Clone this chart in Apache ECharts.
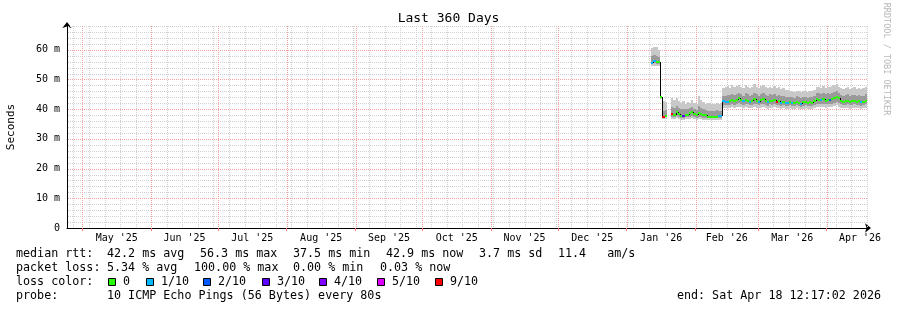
<!DOCTYPE html>
<html><head><meta charset="utf-8">
<script src="https://cdn.jsdelivr.net/npm/echarts@6/dist/echarts.min.js"></script>
<style>html,body{margin:0;padding:0;background:#fff}#c{width:897px;height:310px}</style>
</head><body><div id="c"></div>
<script>
// ---------- data ----------
const DAY = 86400000;
const X_MIN = Date.UTC(2025, 3, 24, 2, 50, 0);
const X_MAX = X_MIN + 360 * DAY;
const monthStarts = ['2025-05-01','2025-06-01','2025-07-01','2025-08-01','2025-09-01','2025-10-01','2025-11-01','2025-12-01','2026-01-01','2026-02-01','2026-03-01','2026-04-01','2026-05-01'];
const monthLabels = ["May '25","Jun '25","Jul '25","Aug '25","Sep '25","Oct '25","Nov '25","Dec '25","Jan '26","Feb '26","Mar '26","Apr '26"];
const firstWeekLine = '2025-04-27';
const yMajorTicks = [0, 10, 20, 30, 40, 50, 60];
const yMinorTicks = [2,4,6,8,12,14,16,18,22,24,26,28,32,34,36,38,42,44,46,48,52,54,56,58,62,64,66,68];
const Y_MAX = 68;

// daily samples starting at this date (ms values)
const firstDay = '2026-01-12';
const median = [
 55.6, 56.3, 56.0, 55.9,
 44.0, 37.4, 37.8,
 null, null,
 38.4, 38.2, 39.2, 38.5, 37.8, 37.7, 38.2, 38.0, 38.6, 39.0, 38.3, 38.0, 38.8, 38.4, 38.0, 37.9, 37.5, 37.5, 37.5, 37.5, 37.5, 37.6, 37.6,
 42.6, 42.4, 42.5, 42.8, 43.0, 42.7, 43.2, 43.6, 43.0, 42.6, 43.1, 42.9, 42.4, 42.8, 43.5, 42.9, 42.5, 43.0, 43.3, 42.8, 42.3, 42.9, 42.6, 43.0, 42.4, 42.7, 42.2, 42.5, 42.1, 42.0,
 42.4, 42.2, 42.0, 42.5, 42.2, 41.9, 42.3, 42.4, 42.1, 42.3, 42.2, 42.6, 43.4, 43.2, 43.0, 43.3, 42.9, 43.2, 43.0, 43.3, 43.8, 44.2, 43.6, 42.8, 42.5, 42.6, 42.9, 42.4, 42.6, 42.8, 42.5, 42.6, 42.3, 42.5, 42.9
];
const lossCount = [
 1, 1, 0, 0,
 0, 9, 0,
 null, null,
 9, 0, 0, 0, 0, 3, 0, 0, 0, 0, 0, 0, 0, 0, 0, 0, 0, 0, 0, 0, 0, 1, 1,
 1, 1, 1, 0, 0, 0, 0, 0, 0, 1, 0, 0, 1, 0, 0, 0, 1, 0, 0, 0, 1, 0, 0, 0, 9, 0, 1, 0, 1, 1,
 0, 1, 0, 0, 0, 1, 0, 0, 0, 0, 0, 0, 0, 0, 1, 0, 0, 0, 2, 0, 0, 0, 0, 0, 0, 0, 0, 0, 0, 0, 0, 0, 1, 0, 0
];
const smokeHi = [
 60.5, 61.0, 60.8, 59.8,
 44.5, 42.6, 42.4,
 null, null,
 43.7, 43.0, 43.6, 42.6, 42.2, 42.8, 41.9, 42.3, 42.0, 43.1, 42.2, 41.6, 44.3, 43.0, 42.3, 41.8, 42.0, 42.1, 41.6, 41.8, 42.1, 41.7, 42.0,
 47.0, 47.5, 47.8, 47.2, 48.0, 47.4, 47.8, 48.3, 47.5, 47.0, 48.2, 47.6, 47.0, 47.4, 48.4, 47.6, 47.2, 47.8, 48.0, 47.3, 47.0, 47.5, 47.2, 47.8, 47.0, 47.4, 46.8, 47.2, 46.6, 46.4,
 46.0, 46.2, 45.9, 46.1, 46.0, 45.8, 46.0, 46.2, 45.9, 46.0, 46.1, 46.5, 47.4, 47.6, 47.0, 47.8, 47.2, 47.6, 47.3, 47.8, 48.2, 48.5, 47.6, 47.0, 46.8, 47.2, 47.5, 46.8, 47.0, 47.4, 46.9, 47.2, 46.8, 47.0, 47.3
];
const smokeMidHi = [
 58.0, 58.4, 58.0, 57.6,
 44.3, 39.5, 39.6,
 null, null,
 40.8, 40.5, 41.0, 40.3, 39.9, 40.2, 40.0, 40.1, 40.4, 40.8, 40.2, 39.8, 41.2, 40.5, 40.0, 39.6, 39.4, 39.5, 39.3, 39.4, 39.6, 39.3, 39.5,
 44.6, 44.5, 44.8, 44.7, 45.2, 44.8, 45.1, 45.6, 45.0, 44.6, 45.3, 45.0, 44.5, 44.9, 45.6, 45.0, 44.6, 45.1, 45.4, 44.9, 44.4, 45.0, 44.7, 45.2, 44.5, 44.8, 44.3, 44.6, 44.2, 44.0,
 44.2, 44.1, 43.8, 44.3, 44.0, 43.8, 44.1, 44.2, 43.9, 44.1, 44.0, 44.6, 45.4, 45.3, 45.0, 45.4, 45.0, 45.3, 45.1, 45.4, 45.8, 46.2, 45.6, 44.9, 44.6, 44.8, 45.0, 44.5, 44.7, 44.9, 44.6, 44.8, 44.4, 44.6, 45.0
];
const smokeMidLo = [
 55.1, 55.4, 55.2, 55.1,
 43.7, 37.0, 37.2,
 null, null,
 37.4, 37.3, 37.6, 37.3, 37.0, 37.0, 37.3, 37.2, 37.4, 37.6, 37.3, 37.1, 37.5, 37.3, 37.1, 37.0, 36.9, 36.9, 36.9, 36.9, 36.9, 37.0, 37.0,
 41.4, 41.3, 41.4, 41.5, 41.7, 41.5, 41.8, 42.0, 41.7, 41.4, 41.7, 41.6, 41.3, 41.5, 41.9, 41.6, 41.3, 41.6, 41.8, 41.5, 41.2, 41.6, 41.4, 41.7, 41.3, 41.5, 41.2, 41.4, 41.1, 41.0,
 41.3, 41.1, 41.0, 41.3, 41.1, 40.9, 41.2, 41.3, 41.0, 41.2, 41.1, 41.4, 41.9, 41.8, 41.7, 41.9, 41.6, 41.8, 41.7, 41.9, 42.2, 42.5, 42.0, 41.6, 41.4, 41.5, 41.6, 41.3, 41.4, 41.6, 41.4, 41.5, 41.2, 41.4, 41.6
];
const smokeLo = [
 54.4, 54.6, 54.5, 54.5,
 43.5, 36.7, 36.8,
 null, null,
 36.7, 36.6, 36.9, 36.7, 36.5, 36.4, 36.7, 36.6, 36.8, 36.9, 36.6, 36.5, 36.8, 36.6, 36.5, 36.4, 36.4, 36.4, 36.4, 36.4, 36.4, 36.5, 36.5,
 40.4, 40.3, 40.4, 40.5, 40.6, 40.4, 40.7, 40.9, 40.6, 40.3, 40.6, 40.5, 40.3, 40.5, 40.8, 40.5, 40.3, 40.5, 40.7, 40.4, 40.2, 40.5, 40.4, 40.6, 40.3, 40.4, 40.2, 40.4, 40.1, 40.0,
 40.3, 40.1, 40.0, 40.3, 40.1, 39.9, 40.2, 40.3, 40.0, 40.2, 40.1, 40.4, 40.8, 40.7, 40.6, 40.8, 40.5, 40.7, 40.6, 40.8, 41.1, 41.4, 40.9, 40.5, 40.3, 40.4, 40.5, 40.2, 40.3, 40.5, 40.3, 40.4, 40.1, 40.3, 40.5
];
const lossColors = {0:'#26ff00',1:'#00b8ff',2:'#0059ff',3:'#5e00ff',4:'#7e00ff',5:'#dd00ff',9:'#ff0000'};
const legendLoss = [['0',0],['1/10',1],['2/10',2],['3/10',3],['4/10',4],['5/10',5],['9/10',9]];

// ---------- build ----------
const t0 = Date.parse(firstDay + 'T00:00:00Z');
const items = [];
let prev = null;
for (let i = 0; i < median.length; i++) {
  if (median[i] == null) { prev = null; continue; }
  items.push([t0 + i * DAY, smokeLo[i], smokeMidLo[i], smokeMidHi[i], smokeHi[i], median[i], lossCount[i], prev == null ? NaN : prev]);
  prev = median[i];
}
const monthTicks = monthStarts.map(s => Date.parse(s + 'T00:00:00Z'));
const monthMid = monthLabels.map((l, i) => (monthTicks[i] + monthTicks[i + 1]) / 2);
const monthLines = monthTicks.filter(t => t < X_MAX);
const weekTicks = [];
for (let t = Date.parse(firstWeekLine + 'T00:00:00Z'); t < X_MAX; t += 7 * DAY) weekTicks.push(t);

const MONO = "'DejaVu Sans Mono', monospace";
const chart = echarts.init(document.getElementById('c'), null, {renderer: 'canvas'});

function rectBetween(api, t, lo, hi, fill) {
  const a = api.coord([t, hi]);
  const b = api.coord([t + DAY, lo]);
  const x0 = Math.round(a[0]), x1 = Math.round(b[0]);
  const y0 = Math.round(a[1]), y1 = Math.round(b[1]);
  return {type: 'rect', shape: {x: x0, y: y0, width: x1 - x0, height: Math.max(1, y1 - y0)}, style: {fill}};
}
function vGridSeries(values, color, z) {
  return {type: 'custom', xAxisIndex: 0, yAxisIndex: 0, z, silent: true, clip: false,
    data: values.map(t => [t, 0]),
    renderItem: (p, api) => {
      const a = api.coord([api.value(0), 0]);
      const b = api.coord([api.value(0), Y_MAX]);
      const x = Math.round(a[0]) + 0.5;
      return {type: 'line', shape: {x1: x, y1: Math.round(b[1]), x2: x, y2: Math.round(a[1])}, style: {stroke: color, lineWidth: 1, lineDash: [1, 1]}};
    }};
}
function hGridSeries(values, color, z) {
  return {type: 'custom', xAxisIndex: 0, yAxisIndex: 0, z, silent: true, clip: false,
    data: values.map(v => [X_MIN, v]),
    renderItem: (p, api) => {
      const a = api.coord([X_MIN, api.value(1)]);
      const b = api.coord([X_MAX, api.value(1)]);
      const y = Math.round(a[1]) + 0.5;
      return {type: 'line', shape: {x1: Math.round(a[0]) + 1, y1: y, x2: Math.round(b[0]), y2: y}, style: {stroke: color, lineWidth: 1, lineDash: [1, 1]}};
    }};
}

const legendRows = [
  {y: 254, parts: [[16,'median rtt:'],[107,'42.2 ms avg'],[200,'56.3 ms max'],[293,'37.5 ms min'],[386,'42.9 ms now'],[479,'3.7 ms sd'],[558,'11.4   am/s']]},
  {y: 268, parts: [[16,'packet loss:'],[107,'5.34 % avg'],[194,'100.00 % max'],[293,'0.00 % min'],[380,'0.03 % now']]},
  {y: 282, parts: [[16,'loss color:']]},
  {y: 296, parts: [[16,'probe:'],[107,'10 ICMP Echo Pings (56 Bytes) every 80s']]}
];
const graphics = [];
legendRows.forEach(r => r.parts.forEach(p => graphics.push({type:'text', x:p[0], y:r.y, style:{text:p[1], font:'11.7px ' + MONO, fill:'#000', textVerticalAlign:'middle'}})));
const swatchX = [108, 146, 203, 262, 319, 377, 435];
legendLoss.forEach((l, i) => {
  graphics.push({type:'rect', shape:{x: swatchX[i] + 0.5, y: 278.5, width: 7, height: 7}, style:{fill: lossColors[l[1]], stroke:'#000', lineWidth:1}});
  graphics.push({type:'text', x: swatchX[i] + 15, y: 282, style:{text: l[0], font:'11.7px ' + MONO, fill:'#000', textVerticalAlign:'middle'}});
});
graphics.push({type:'text', x: 881, y: 296, style:{text:'end: Sat Apr 18 12:17:02 2026', font:'11.7px ' + MONO, fill:'#000', textAlign:'right', textVerticalAlign:'middle'}});
graphics.push({type:'text', x: 11, y: 127, rotation: Math.PI / 2, style:{text:'Seconds', font:'11px ' + MONO, fill:'#000', textAlign:'center', textVerticalAlign:'middle'}});
graphics.push({type:'text', x: 886, y: 59, rotation: -Math.PI / 2, style:{text:'RRDTOOL / TOBI OETIKER', font:'8.5px ' + MONO, fill:'#b8b8b8', textAlign:'center', textVerticalAlign:'middle'}});

const option = {
  backgroundColor: '#ffffff',
  animation: false,
  title: {text: 'Last 360 Days', left: 'center', top: 12, padding: 0, textStyle: {fontFamily: MONO, fontSize: 13, fontWeight: 'normal', color: '#000'}},
  grid: {left: 67, top: 26, width: 800, height: 202, containLabel: false},
  xAxis: [
    {type: 'value', min: X_MIN, max: X_MAX, position: 'bottom',
     axisLine: {show: true, lineStyle: {color: '#000', width: 1}, symbol: ['none', 'arrow'], symbolSize: [7, 6], symbolOffset: [0, 4]},
     axisTick: {show: true, customValues: monthLines, length: 3, lineStyle: {color: '#ff7070'}},
     axisLabel: {show: true, customValues: monthMid, margin: 5, fontFamily: MONO, fontSize: 10, color: '#000',
       formatter: v => { const i = monthMid.findIndex(m => Math.abs(m - v) < 1000); return i >= 0 ? monthLabels[i] : ''; }},
     splitLine: {show: false}}
  ],
  yAxis: [
    {type: 'value', min: 0, max: Y_MAX, position: 'left',
     axisLine: {show: true, onZero: false, lineStyle: {color: '#000', width: 1}, symbol: ['none', 'arrow'], symbolSize: [7, 6], symbolOffset: [0, 4]},
     axisTick: {show: false, customValues: yMajorTicks},
     axisLabel: {show: true, customValues: yMajorTicks, margin: 7, fontFamily: MONO, fontSize: 10, color: '#000',
       formatter: v => v === 0 ? '0' : v + ' m'},
     splitLine: {show: false}}
  ],
  series: [
    hGridSeries(yMinorTicks, '#d0d0d0', 1),
    vGridSeries(weekTicks, '#d0d0d0', 1),
    hGridSeries(yMajorTicks.filter(v => v > 0), '#f3a0a0', 1.5),
    vGridSeries(monthLines, '#f3a0a0', 1.5),
    {
    type: 'custom', xAxisIndex: 0, yAxisIndex: 0, clip: true, z: 3,
    encode: {x: 0, y: [1, 4]},
    data: items,
    renderItem: (params, api) => {
      const t = api.value(0);
      const lo = api.value(1), mlo = api.value(2), mhi = api.value(3), hi = api.value(4), med = api.value(5), loss = api.value(6), pm = api.value(7);
      const ch = [];
      ch.push(rectBetween(api, t, lo, hi, '#c8c8c8'));
      ch.push(rectBetween(api, t, mlo, mhi, '#9a9a9a'));
      const a = api.coord([t, med]);
      const b = api.coord([t + DAY, med]);
      if (!isNaN(pm)) {
        const p = api.coord([t, pm]);
        ch.push({type: 'line', shape: {x1: Math.round(a[0]) + 0.5, y1: Math.round(p[1]), x2: Math.round(a[0]) + 0.5, y2: Math.round(a[1])}, style: {stroke: '#000', lineWidth: 1}});
      }
      ch.push({type: 'line', shape: {x1: Math.round(a[0]), y1: Math.round(a[1]), x2: Math.round(b[0]), y2: Math.round(b[1])}, style: {stroke: lossColors[loss] || '#ff0000', lineWidth: 2}});
      return {type: 'group', children: ch};
    }
  }],
  graphic: graphics
};
chart.setOption(option);
</script></body></html>
